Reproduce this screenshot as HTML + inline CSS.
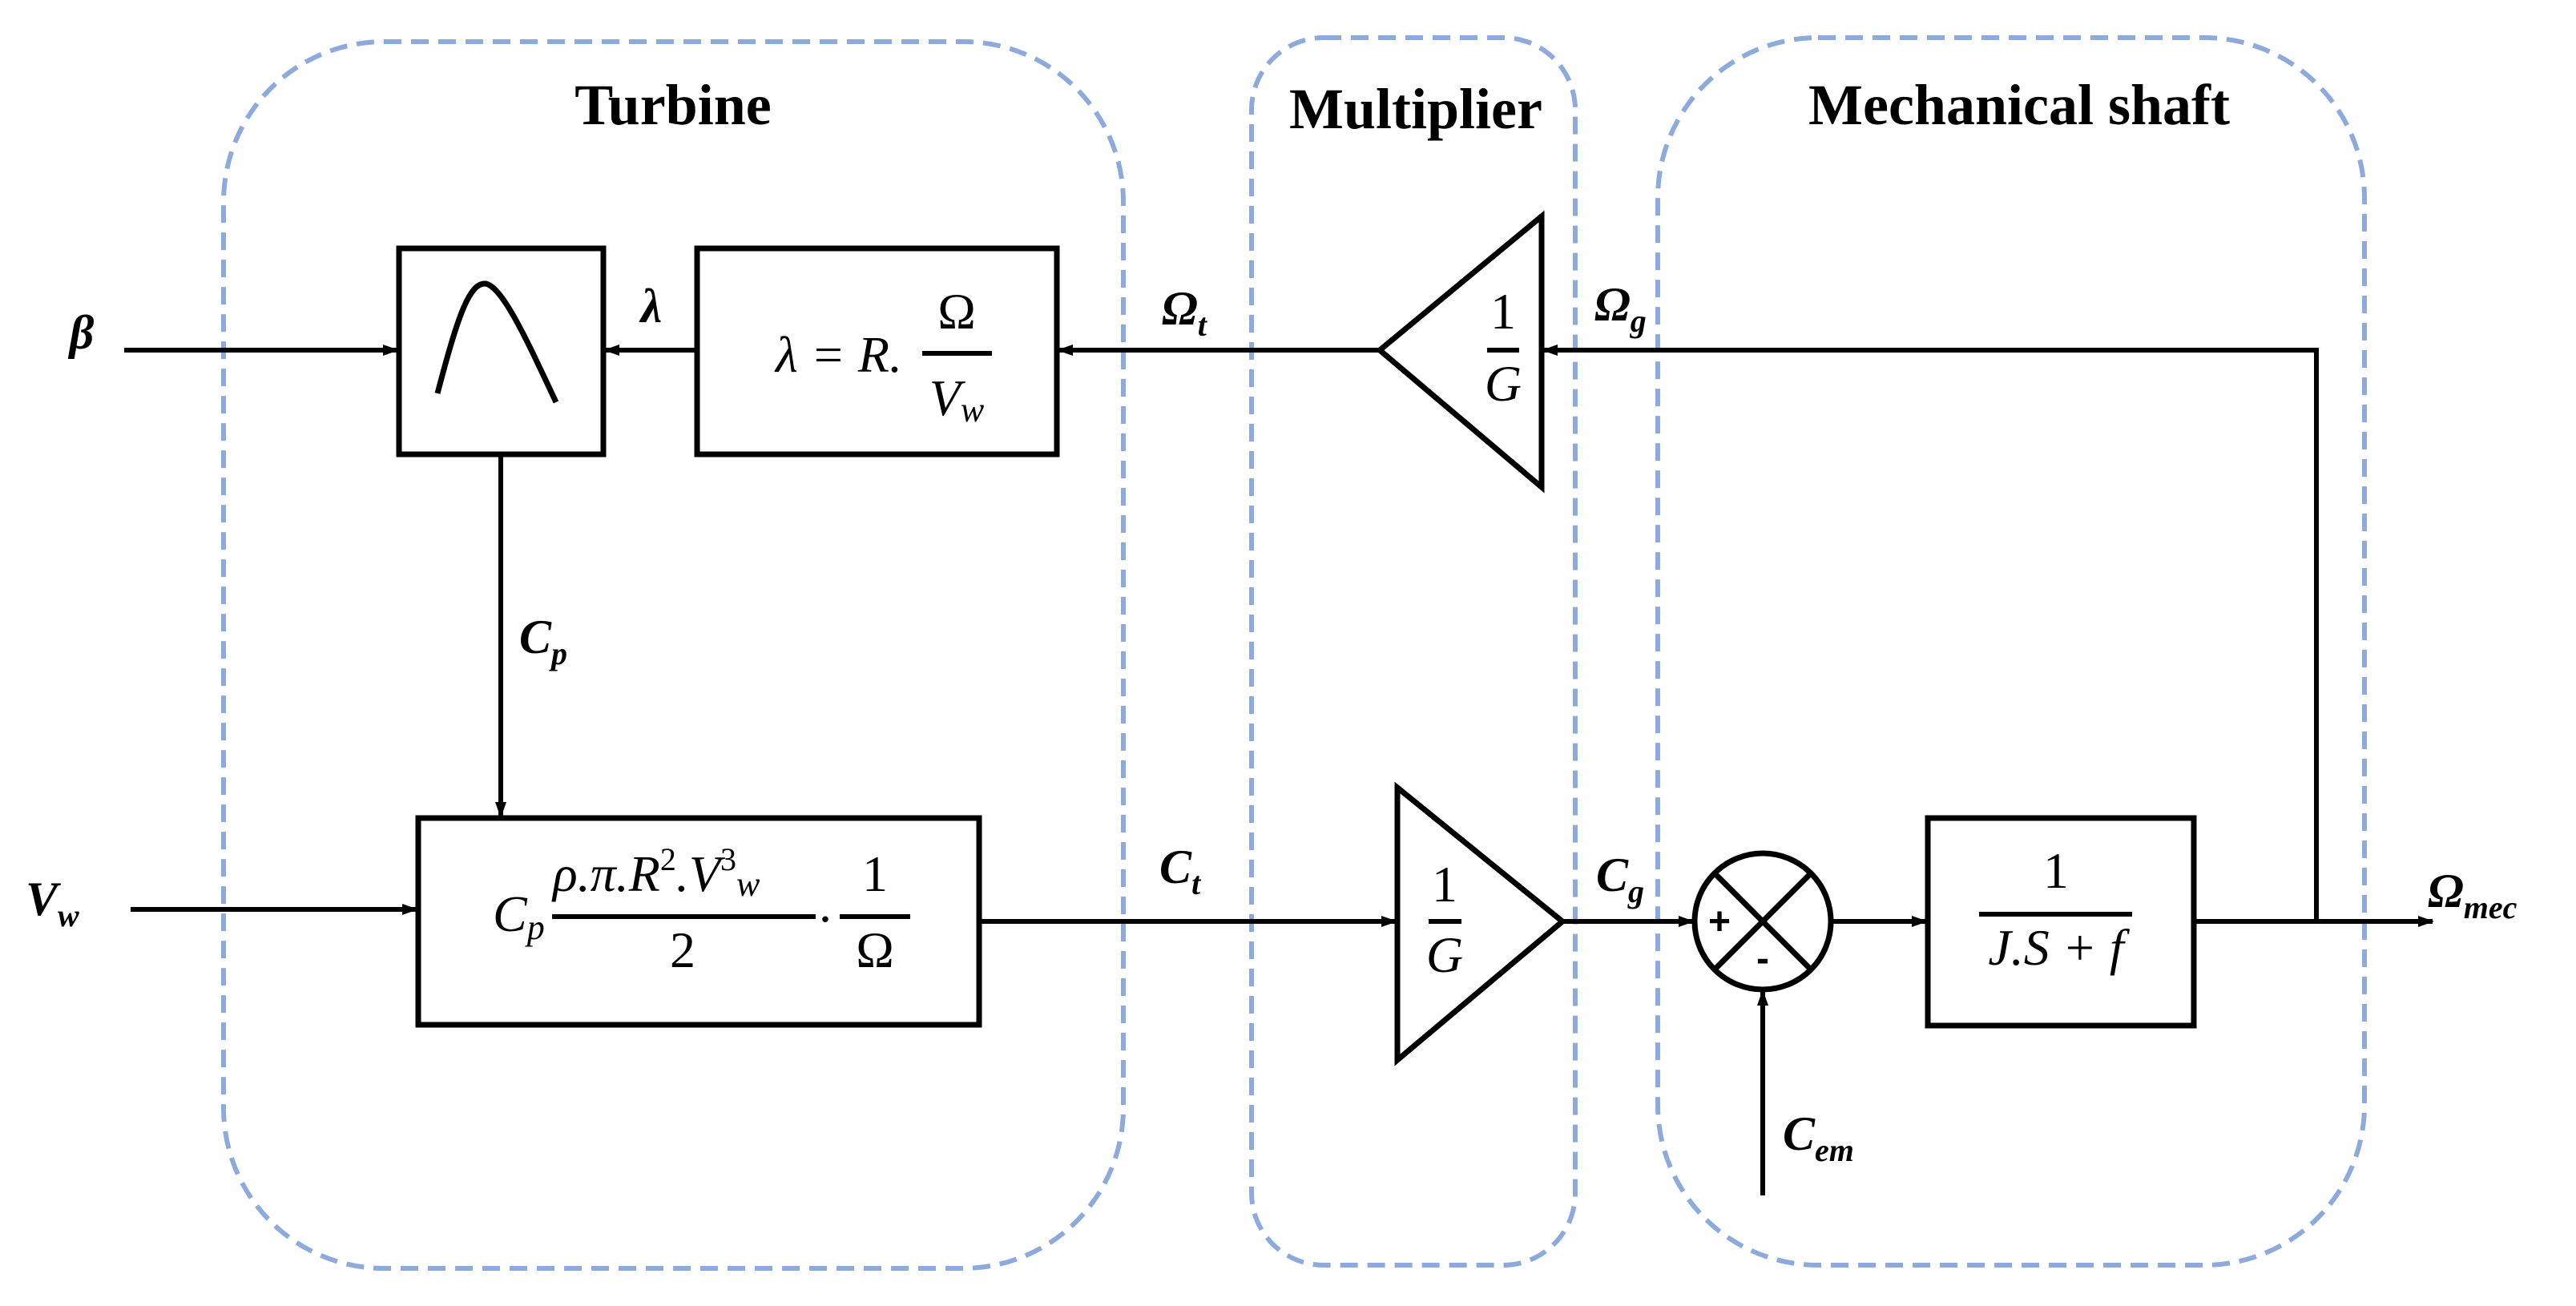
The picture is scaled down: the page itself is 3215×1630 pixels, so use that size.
<!DOCTYPE html>
<html><head><meta charset="utf-8"><style>
html,body{margin:0;padding:0;background:#fff;}
svg{display:block;}
.t{font-family:"Liberation Serif",serif;font-weight:bold;font-size:72px;}
.l{font-family:"Liberation Serif",serif;font-weight:bold;font-style:italic;font-size:60px;}
.ls{font-family:"Liberation Serif",serif;font-weight:bold;font-style:italic;font-size:40px;}
.m{font-family:"Liberation Serif",serif;font-style:italic;font-size:64px;}
.mn{font-family:"Liberation Serif",serif;font-size:64px;}
.sup{font-family:"Liberation Serif",serif;font-size:40px;}
</style></head><body>
<svg width="3215" height="1630" viewBox="0 0 3215 1630" xmlns="http://www.w3.org/2000/svg">
<defs>
<marker id="a" markerWidth="20" markerHeight="14" refX="18" refY="7" orient="auto" markerUnits="userSpaceOnUse">
<path d="M0,0 L20,7 L0,14 Z" fill="#000"/></marker>
</defs>
<g fill="none" stroke="#8eaadb" stroke-width="6" stroke-dasharray="22 12">
<rect x="279" y="52" width="1123" height="1531" rx="200" ry="200"/>
<rect x="1562" y="47" width="404" height="1532" rx="90" ry="90"/>
<rect x="2069" y="47" width="882" height="1532" rx="200" ry="200"/>
</g>
<text class="t" x="840" y="155" text-anchor="middle">Turbine</text>
<text class="t" x="1767" y="160" text-anchor="middle">Multiplier</text>
<text class="t" x="2520" y="155" text-anchor="middle">Mechanical shaft</text>

<g stroke="#000" stroke-width="7" fill="none">
<rect x="498" y="310" width="255" height="257"/>
<rect x="870" y="310" width="449" height="257"/>
<rect x="522" y="1021" width="700" height="258"/>
<rect x="2406" y="1021" width="332" height="259"/>
<path d="M1924,270 L1722,437 L1924,608 Z"/>
<path d="M1744,983 L1950,1150 L1744,1323 Z"/>
<circle cx="2200" cy="1150" r="85"/>
<line x1="2140" y1="1090" x2="2260" y2="1210"/>
<line x1="2260" y1="1090" x2="2140" y2="1210"/>
<path d="M546,491 C570,400 585,352 606,354 C628,358 660,430 694,502"/>
</g>
<g stroke="#000" stroke-width="6" fill="none">
<line x1="155" y1="437" x2="496" y2="437" marker-end="url(#a)"/>
<line x1="870" y1="437" x2="755" y2="437" marker-end="url(#a)"/>
<line x1="1722" y1="437" x2="1321" y2="437" marker-end="url(#a)"/>
<polyline points="2738,1150 2891,1150 2891,437 1926,437" marker-end="url(#a)"/>
<line x1="625" y1="567" x2="625" y2="1019" marker-end="url(#a)"/>
<line x1="163" y1="1135" x2="520" y2="1135" marker-end="url(#a)"/>
<line x1="1222" y1="1150" x2="1742" y2="1150" marker-end="url(#a)"/>
<line x1="1950" y1="1150" x2="2113" y2="1150" marker-end="url(#a)"/>
<line x1="2285" y1="1150" x2="2404" y2="1150" marker-end="url(#a)"/>
<line x1="2738" y1="1150" x2="3036" y2="1150" marker-end="url(#a)"/>
<line x1="2200" y1="1492" x2="2200" y2="1237" marker-end="url(#a)"/>
<line x1="1151" y1="441" x2="1238" y2="441"/>
<line x1="689" y1="1144" x2="1018" y2="1144"/>
<line x1="1048" y1="1144" x2="1136" y2="1144"/>
<line x1="1856" y1="437" x2="1896" y2="437"/>
<line x1="1783" y1="1150" x2="1824" y2="1150"/>
<line x1="2470" y1="1141" x2="2661" y2="1141"/>
</g>
<text x="2146" y="1166" text-anchor="middle" font-family="Liberation Sans,sans-serif" font-weight="bold" font-size="48">+</text>
<text x="2200" y="1212" text-anchor="middle" font-family="Liberation Sans,sans-serif" font-weight="bold" font-size="48">-</text>

<text class="l" x="102" y="435" text-anchor="middle">β</text>
<text class="l" x="813" y="402" text-anchor="middle">λ</text>
<text class="l" x="1450" y="405">Ω<tspan class="ls" dy="14">t</tspan></text>
<text class="l" x="1990" y="400">Ω<tspan class="ls" dy="14">g</tspan></text>
<text class="l" x="648" y="815">C<tspan class="ls" dy="14">p</tspan></text>
<text class="l" x="32" y="1142">V<tspan class="ls" dy="14">w</tspan></text>
<text class="l" x="1447" y="1102">C<tspan class="ls" dy="14">t</tspan></text>
<text class="l" x="1992" y="1112">C<tspan class="ls" dy="14">g</tspan></text>
<text class="l" x="2225" y="1435">C<tspan class="ls" dy="14">em</tspan></text>
<text class="l" x="3030" y="1132">Ω<tspan class="ls" dy="14">mec</tspan></text>

<text class="m" x="968" y="464">λ <tspan class="mn">=</tspan> R.</text>
<text class="mn" x="1194" y="410" text-anchor="middle">Ω</text>
<text class="m" x="1194" y="518" text-anchor="middle">V<tspan font-size="44" dy="8">w</tspan></text>

<text class="m" x="615" y="1162">C<tspan font-size="44" dy="10">p</tspan></text>
<text class="m" x="690" y="1112">ρ.π.R<tspan class="sup" dy="-26" font-style="normal">2</tspan><tspan dy="26">.V</tspan><tspan class="sup" dy="-26" font-style="normal">3</tspan><tspan font-size="44" dy="32">w</tspan></text>
<text class="mn" x="852" y="1207" text-anchor="middle">2</text>
<text class="mn" x="1030" y="1150" text-anchor="middle">.</text>
<text class="mn" x="1092" y="1112" text-anchor="middle">1</text>
<text class="mn" x="1092" y="1207" text-anchor="middle">Ω</text>

<text class="mn" x="1876" y="410" text-anchor="middle">1</text>
<text class="m" x="1876" y="500" text-anchor="middle">G</text>
<text class="mn" x="1803" y="1125" text-anchor="middle">1</text>
<text class="m" x="1803" y="1213" text-anchor="middle">G</text>

<text class="mn" x="2566" y="1108" text-anchor="middle">1</text>
<text class="m" x="2566" y="1204" text-anchor="middle">J.S <tspan class="mn">+</tspan> f</text>
</svg>
</body></html>
